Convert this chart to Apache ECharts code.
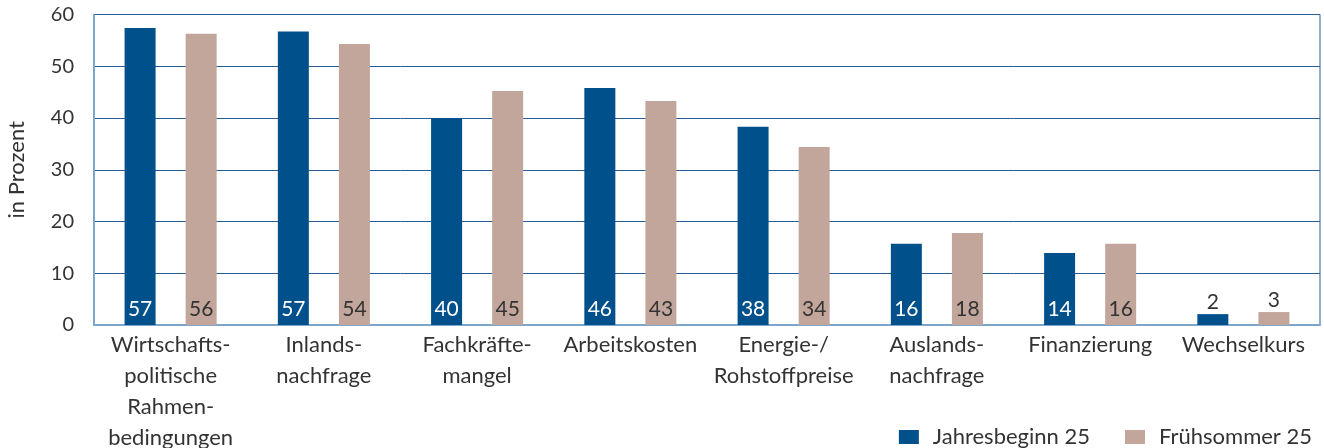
<!DOCTYPE html>
<html>
<head>
<meta charset="utf-8">
<script src="https://cdn.jsdelivr.net/npm/echarts@6/dist/echarts.min.js"></script>
<style>
  html, body { margin: 0; padding: 0; background: #fff; }
  #chart { width: 1324px; height: 448px; }
</style>
</head>
<body>
<div id="chart"></div>
<script>
// Kategorien (mit Zeilenumbrüchen wie im Original)
const categories = [
  'Wirtschafts-\npolitische\nRahmen-\nbedingungen',
  'Inlands-\nnachfrage',
  'Fachkräfte-\nmangel',
  'Arbeitskosten',
  'Energie-/\nRohstoffpreise',
  'Auslands-\nnachfrage',
  'Finanzierung',
  'Wechselkurs'
];

// Werte in Prozent (Balkenhöhen, Beschriftung gerundet)
const jahresbeginn = [57.4, 56.7, 40.0, 45.8, 38.3, 15.7, 13.9, 2.1];
const fruehsommer = [56.3, 54.3, 45.2, 43.3, 34.4, 17.8, 15.7, 2.5];

const seriesNames = ['Jahresbeginn 25', 'Frühsommer 25'];
const yTicks = [0, 10, 20, 30, 40, 50, 60];

const FONT = 'Lato, "Open Sans", sans-serif';
const TEXT = '#333333';
const BLUE = '#00508c';
const BEIGE = '#c2a69b';
const LINE_DARK = '#245f9c';
const LINE_LIGHT = '#7ea5ca';

// kleine Balken bekommen die Zahl oberhalb statt innen
function toData(values, color) {
  return values.map(v => {
    if (v < 5) {
      return { value: v, label: { position: 'top', distance: 1, color: TEXT } };
    }
    return { value: v, label: { color: color } };
  });
}

const chart = echarts.init(document.getElementById('chart'), null, { renderer: 'canvas' });

const barLabel = {
  show: true,
  position: 'insideBottom',
  distance: 5,
  fontFamily: FONT,
  fontSize: 21,
  formatter: p => Math.round(p.value)
};

chart.setOption({
  animation: false,
  backgroundColor: '#fff',
  textStyle: { fontFamily: FONT },
  grid: {
    left: 94,
    right: 4,
    top: 14.5,
    bottom: 123,
    outerBoundsMode: 'none',
    containLabel: false,
    show: true,
    borderColor: LINE_DARK,
    borderWidth: 1
  },
  legend: {
    right: 7,
    top: 421,
    itemWidth: 20,
    itemHeight: 14,
    itemGap: 35,
    icon: 'rect',
    textStyle: { fontFamily: FONT, fontSize: 22, color: TEXT, padding: [0, 0, 0, 9] },
    data: seriesNames
  },
  xAxis: {
    type: 'category',
    data: categories,
    axisLine: { show: true, lineStyle: { color: LINE_LIGHT, width: 2 } },
    axisTick: { show: false },
    axisLabel: {
      fontFamily: FONT,
      fontSize: 22,
      color: TEXT,
      lineHeight: 31,
      margin: 4,
      interval: 0
    }
  },
  yAxis: {
    type: 'value',
    min: yTicks[0],
    max: yTicks[yTicks.length - 1],
    interval: 10,
    name: 'in Prozent',
    nameLocation: 'middle',
    nameRotate: 90,
    nameGap: 66,
    nameTextStyle: { fontFamily: FONT, fontSize: 22, color: TEXT },
    axisLine: { show: true, lineStyle: { color: LINE_LIGHT, width: 2 } },
    axisTick: { show: false },
    axisLabel: {
      fontFamily: FONT,
      fontSize: 20,
      color: TEXT,
      margin: 20,
      padding: [8, 0, 0, 0]
    },
    splitLine: { show: true, lineStyle: { color: LINE_DARK, width: 1 } }
  },
  series: [
    {
      name: seriesNames[0],
      type: 'bar',
      data: toData(jahresbeginn, '#ffffff'),
      itemStyle: { color: BLUE },
      barWidth: 31,
      barGap: '97%',
      label: barLabel
    },
    {
      name: seriesNames[1],
      type: 'bar',
      data: toData(fruehsommer, TEXT),
      itemStyle: { color: BEIGE },
      barWidth: 31,
      label: barLabel
    }
  ]
});
</script>
</body>
</html>
